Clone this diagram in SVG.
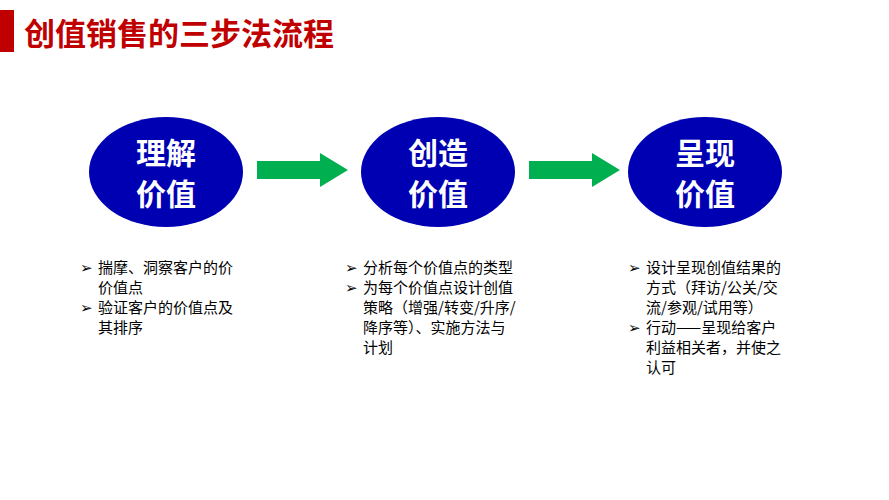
<svg xmlns="http://www.w3.org/2000/svg" width="889" height="500" viewBox="0 0 889 500">
<style>
.t{font-family:"Noto Sans CJK SC","Liberation Sans",sans-serif}
.el{fill:#0000b3}
.nl{font-size:30px;font-weight:bold;fill:#fff;text-anchor:middle}
.b{font-size:15px;fill:#000}
.ar{fill:#00b050}
</style>
<rect width="889" height="500" fill="#fff"/>
<rect x="0" y="10" width="14" height="42" fill="#c00000"/>
<text class="t" x="24" y="45" font-size="31" font-weight="bold" fill="#c00000">创值销售的三步法流程</text>
<g id="connectors">
<polygon class="ar" points="257,161 320,161 320,153 348,170 320,187 320,179 257,179"/>
<polygon class="ar" points="529,161 592,161 592,153 620,170 592,187 592,179 529,179"/>
</g>
<g id="n1"><ellipse class="el" cx="166" cy="172" rx="77" ry="55"/>
<text class="t nl" x="166" y="164">理解</text><text class="t nl" x="166" y="205">价值</text></g>
<g id="n2"><ellipse class="el" cx="438" cy="172" rx="77" ry="55"/>
<text class="t nl" x="438" y="164">创造</text><text class="t nl" x="438" y="205">价值</text></g>
<g id="n3"><ellipse class="el" cx="705" cy="172" rx="77" ry="55"/>
<text class="t nl" x="705" y="164">呈现</text><text class="t nl" x="705" y="205">价值</text></g>
<g id="l1" class="t b">
<text x="80" y="273">➢</text><text x="98" y="273">揣摩、洞察客户的价</text>
<text x="98" y="293">价值点</text>
<text x="80" y="313">➢</text><text x="98" y="313">验证客户的价值点及</text>
<text x="98" y="333">其排序</text>
</g>
<g id="l2" class="t b">
<text x="345" y="273">➢</text><text x="363" y="273">分析每个价值点的类型</text>
<text x="345" y="293">➢</text><text x="363" y="293">为每个价值点设计创值</text>
<text x="363" y="313">策略（增强/转变/升序/</text>
<text x="363" y="333">降序等）、实施方法与</text>
<text x="363" y="353">计划</text>
</g>
<g id="l3" class="t b">
<text x="628" y="273">➢</text><text x="646" y="273">设计呈现创值结果的</text>
<text x="646" y="293">方式（拜访/公关/交</text>
<text x="646" y="313">流/参观/试用等）</text>
<text x="628" y="333">➢</text><text x="646" y="333">行动——呈现给客户</text>
<text x="646" y="353">利益相关者，并使之</text>
<text x="646" y="373">认可</text>
</g>
</svg>
